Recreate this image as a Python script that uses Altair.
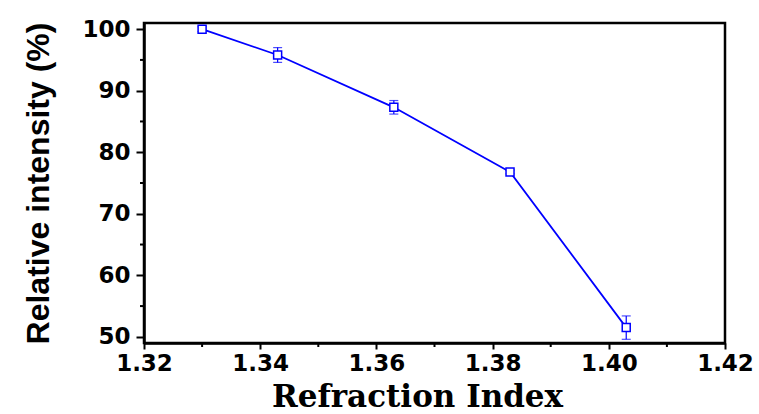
import altair as alt
import pandas as pd

# data
refr_index = [1.330, 1.343, 1.363, 1.383, 1.403]
rel_intensity = [100.0, 95.8, 87.3, 76.8, 51.5]
err = [0.4, 1.2, 1.1, 0.3, 1.9]

x_ticks = [1.32, 1.34, 1.36, 1.38, 1.40, 1.42]
y_ticks = [50, 60, 70, 80, 90, 100]
x_minor = [1.33, 1.35, 1.37, 1.39, 1.41]
y_minor = [55, 65, 75, 85, 95]

df = pd.DataFrame({"x": refr_index, "y": rel_intensity, "e": err})
df["lo"] = df["y"] - df["e"]
df["hi"] = df["y"] + df["e"]

BLUE = "#0000ff"
xscale = alt.Scale(domain=[1.32, 1.42], nice=False, zero=False)
yscale = alt.Scale(domain=[49, 101], nice=False, zero=False)

xaxis = alt.Axis(
    values=x_ticks, format=".2f", title="Refraction Index", grid=False,
    domainColor="black", domainWidth=2.5, tickColor="black", tickWidth=2, tickSize=6,
    labelFont="DejaVu Sans", labelFontWeight="bold", labelFontSize=23, labelColor="black",
    labelPadding=3, labelFlush=False,
    titleFont="DejaVu Serif", titleFontWeight="bold", titleFontSize=31, titleColor="black",
    titleAnchor="start", titleAlign="center", titleX=273, titleY=63, titleBaseline="alphabetic",
)
yaxis = alt.Axis(
    values=y_ticks, title="Relative intensity (%)", grid=False,
    domainColor="black", domainWidth=2.5, tickColor="black", tickWidth=2, tickSize=8,
    labelFont="DejaVu Sans", labelFontWeight="bold", labelFontSize=23, labelColor="black",
    labelPadding=6, labelFlush=False,
    titleFont="Liberation Sans", titleFontWeight="bold", titleFontSize=32, titleColor="black",
    titleX=-96, titleBaseline="alphabetic",
)

base = alt.Chart(df)

line = base.mark_line(color=BLUE, strokeWidth=1.8).encode(
    x=alt.X("x:Q", scale=xscale, axis=xaxis),
    y=alt.Y("y:Q", scale=yscale, axis=yaxis),
)
bars = base.mark_rule(color=BLUE, strokeWidth=1.2).encode(
    x="x:Q", y="lo:Q", y2="hi:Q"
)
cap_lo = base.mark_tick(color=BLUE, orient="horizontal", size=9, thickness=1.2).encode(
    x="x:Q", y="lo:Q"
)
cap_hi = base.mark_tick(color=BLUE, orient="horizontal", size=9, thickness=1.2).encode(
    x="x:Q", y="hi:Q"
)
pts = base.mark_square(fill="white", stroke=BLUE, strokeWidth=1.5, size=64, opacity=1, fillOpacity=1).encode(
    x="x:Q", y="y:Q"
)

ymin_df = pd.DataFrame({"ym": y_minor})
xmin_df = pd.DataFrame({"xm": x_minor})
yminor = alt.Chart(ymin_df).mark_rule(color="black", strokeWidth=2).encode(
    y=alt.Y("ym:Q", scale=yscale), x=alt.value(-4), x2=alt.value(0)
)
xminor = alt.Chart(xmin_df).mark_rule(color="black", strokeWidth=2).encode(
    x=alt.X("xm:Q", scale=xscale), y=alt.value(320), y2=alt.value(324)
)

chart = alt.layer(yminor, xminor, line, bars, cap_lo, cap_hi, pts).properties(
    width=581, height=320,
    autosize=alt.AutoSizeParams(type="none"),
    padding={"left": 144, "top": 23, "right": 34, "bottom": 71},
    background="white",
).configure_view(stroke="black", strokeWidth=2.5)

chart.save("out.html", embed_options={"renderer": "svg", "actions": False})
